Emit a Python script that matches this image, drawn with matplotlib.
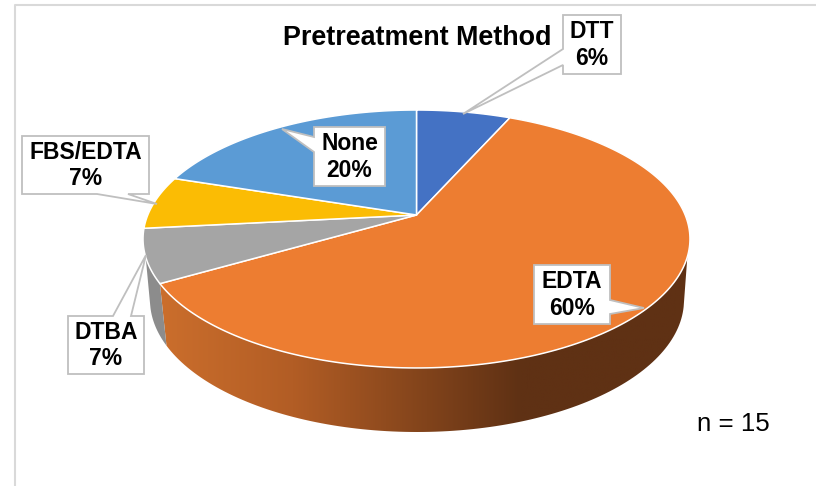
import numpy as np
import matplotlib
matplotlib.use("Agg")
import matplotlib.pyplot as plt
from matplotlib.patches import Polygon
from matplotlib.colors import LinearSegmentedColormap

plt.rcParams["font.family"] = ["Liberation Sans", "DejaVu Sans"]

categories = ["DTT", "EDTA", "DTBA", "FBS/EDTA", "None"]
counts = [1, 9, 1, 1, 3]
pct_labels = ["6%", "60%", "7%", "7%", "20%"]
colors = ["#4472C4", "#ED7D31", "#A5A5A5", "#FBBC04", "#5B9BD5"]
title = "Pretreatment Method"
note = "n = 15"

# pie geometry in image pixels
APEX = (416.5, 215)
A, B, K = 268.7, 124.5, 0.186
TOP = (416.5, 239, 273.5, 129)
BOT = (417, 300, 267, 132)

# x0, y0, x1, y1, side the pointer leaves from, pointer base, tip
callouts = {
    "DTT": (563, 15, 621, 74, "left", (49, 65), (463, 114)),
    "EDTA": (534, 265, 610, 324, "right", (300, 314), (644, 308)),
    "DTBA": (68, 316, 144, 374, "top", (113, 131), (146, 255)),
    "FBS/EDTA": (22, 136, 149, 194, "bottom", (97, 128), (157, 204)),
    "None": (314, 127, 385, 186, "left", (137, 152), (282, 129)),
}


def project(deg):
    # clockwise degrees from 12 o'clock, the back of the pie is squashed
    t = np.radians(deg)
    u, v = np.sin(t), np.cos(t)
    d = 1 + K * v
    return APEX[0] + A * u / d, APEX[1] - B * v / d


def ellipse(e, phi):
    p = np.radians(phi)
    return e[0] + e[2] * np.cos(p), e[1] + e[3] * np.sin(p)


def phi_of(deg):
    x, y = project(deg)
    return np.degrees(np.arctan2((y - TOP[1]) / TOP[3], (x - TOP[0]) / TOP[2]))


def callout_shape(x0, y0, x1, y1, side, base, tip):
    if side == "left":
        return [(x0, y0), (x1, y0), (x1, y1), (x0, y1), (x0, base[1]), tip, (x0, base[0])]
    if side == "right":
        return [(x0, y0), (x1, y0), (x1, base[0]), tip, (x1, base[1]), (x1, y1), (x0, y1)]
    if side == "top":
        return [(x0, y0), (base[0], y0), tip, (base[1], y0), (x1, y0), (x1, y1), (x0, y1)]
    return [(x0, y0), (x1, y0), (x1, y1), (base[1], y1), tip, (base[0], y1), (x0, y1)]


fig = plt.figure(figsize=(8.16, 4.86), dpi=100)
ax = fig.add_axes([0, 0, 1, 1])

# chart frame, only the top and left edges are in the crop
ax.plot([14.5, 14.5, 816], [486, 5.5, 5.5], color="#D9D9D9", lw=1.5)

# side wall
fractions = np.cumsum(counts) / np.sum(counts) * 360
edge_phi = phi_of(fractions[1])

orange_top = [ellipse(TOP, p) for p in np.linspace(8, edge_phi, 120)]
orange_bot = [ellipse(BOT, p) for p in np.linspace(edge_phi, 3, 120)]
orange_wall = Polygon(orange_top + orange_bot, closed=True, fc="none", ec="none")
ax.add_patch(orange_wall)
wall_cmap = LinearSegmentedColormap.from_list(
    "wall", [(0, "#CB6E2C"), (0.25, "#B25D25"), (0.68, "#5F3114"), (1, "#5F3114")]
)
im = ax.imshow(np.linspace(0, 1, 256).reshape(1, -1), cmap=wall_cmap, aspect="auto",
               extent=(160, 690, 440, 240), zorder=2)
im.set_clip_path(orange_wall)

grey_top = [ellipse(TOP, p) for p in np.linspace(edge_phi, 172, 40)]
grey_bot = [ellipse(BOT, p) for p in np.linspace(177, edge_phi, 40)]
ax.add_patch(Polygon(grey_top + grey_bot, closed=True, fc="#8C8C8C", ec="none", zorder=2))

# top face
start = 0
for cat, count, color in zip(categories, counts, colors):
    end = start + count / np.sum(counts) * 360
    rim = [project(a) for a in np.linspace(start, end, 200)]
    ax.add_patch(Polygon([APEX] + rim, closed=True, fc=color, ec="white", lw=1.1,
                         joinstyle="round", zorder=3))
    start = end

# callouts
for cat, pct in zip(categories, pct_labels):
    x0, y0, x1, y1, side, base, tip = callouts[cat]
    ax.add_patch(Polygon(callout_shape(x0, y0, x1, y1, side, base, tip), closed=True,
                         fc="white", ec="#BFBFBF", lw=1.3, zorder=4))
    ax.text((x0 + x1) / 2, (y0 + y1) / 2 + 0.5, f"{cat}\n{pct}", ha="center", va="center",
            fontsize=16.5, fontweight="bold", color="black", linespacing=1.2, zorder=5)

ax.text(417, 38, title, ha="center", va="center", fontsize=19.4, fontweight="bold", color="black")
ax.text(733, 424, note, ha="center", va="center", fontsize=18.6, color="black")

ax.set_xlim(0, 816)
ax.set_ylim(486, 0)
ax.axis("off")

fig.savefig("out.png", dpi=100)
